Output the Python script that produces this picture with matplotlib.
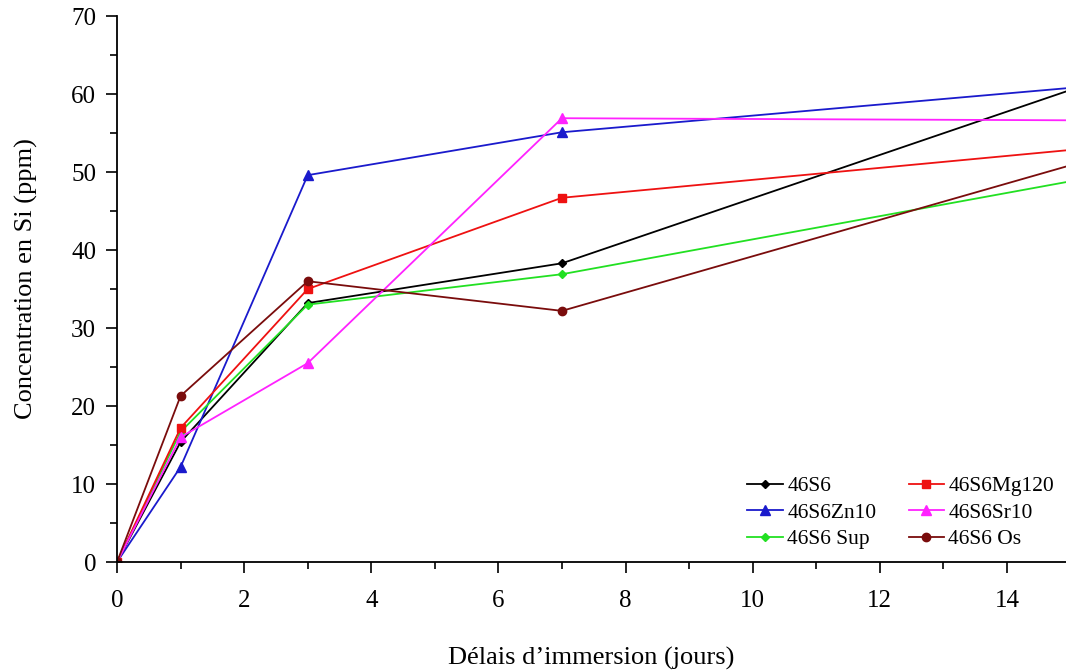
import matplotlib
matplotlib.use("Agg")
import matplotlib.pyplot as plt
from matplotlib.ticker import MultipleLocator

days = [0, 1, 3, 7, 16]
s46S6 = [0, 15.4, 33.2, 38.3, 63.3]
s46S6Mg120 = [0, 17.2, 35.0, 46.7, 53.6]
s46S6Zn10 = [0, 12.2, 49.6, 55.1, 61.5]
s46S6Sr10 = [0, 16.0, 25.5, 56.9, 56.6]
s46S6Sup = [0, 16.7, 33.0, 36.9, 50.3]
s46S6Os = [0, 21.3, 36.0, 32.2, 53.2]

plt.rcParams['font.family'] = ['Liberation Serif', 'DejaVu Serif']

fig = plt.figure(figsize=(10.66, 6.71), dpi=100)
ax = fig.add_axes([0.1098, 0.1624, 0.8902, 0.8137])

series = [
    ("46S6", s46S6, "#000000", "D", 4.5),
    ("46S6Zn10", s46S6Zn10, "#1a1acc", "^", 6.5),
    ("46S6 Sup", s46S6Sup, "#22e022", "D", 4.5),
    ("46S6Mg120", s46S6Mg120, "#ee1111", "s", 6),
    ("46S6Sr10", s46S6Sr10, "#ff22ff", "^", 6.5),
    ("46S6 Os", s46S6Os, "#7a0c0c", "o", 6),
]
handles = []
for name, vals, col, mk, ms in series:
    h, = ax.plot(days, vals, color=col, marker=mk, markersize=ms, lw=1.3, label=name)
    handles.append(h)

ax.set_xlim(0, 14.93)
ax.set_ylim(0, 70)
ax.xaxis.set_major_locator(MultipleLocator(2))
ax.xaxis.set_minor_locator(MultipleLocator(1))
ax.yaxis.set_major_locator(MultipleLocator(10))
ax.yaxis.set_minor_locator(MultipleLocator(5))
for s in ["top", "right"]:
    ax.spines[s].set_visible(False)
for s in ["left", "bottom"]:
    ax.spines[s].set_linewidth(1.3)
ax.tick_params(which="major", direction="out", length=8, width=1.2, labelsize=18)
ax.tick_params(axis="x", which="major", pad=12)
ax.tick_params(axis="y", which="major", pad=7)
ax.tick_params(which="minor", direction="out", length=5, width=1.2)

ax.set_xlabel("Délais d’immersion (jours)", fontsize=19, labelpad=25)
ax.set_ylabel("Concentration en Si (ppm)", fontsize=19)
ax.yaxis.set_label_coords(-0.083, 0.52)

ax.legend(handles=handles, ncol=2, frameon=False, fontsize=15.5,
          loc="lower right", bbox_to_anchor=(1.008, -0.012),
          handlelength=1.65, handletextpad=0.2, columnspacing=1.5,
          labelspacing=0.3)

fig.savefig("out.png", dpi=100)
